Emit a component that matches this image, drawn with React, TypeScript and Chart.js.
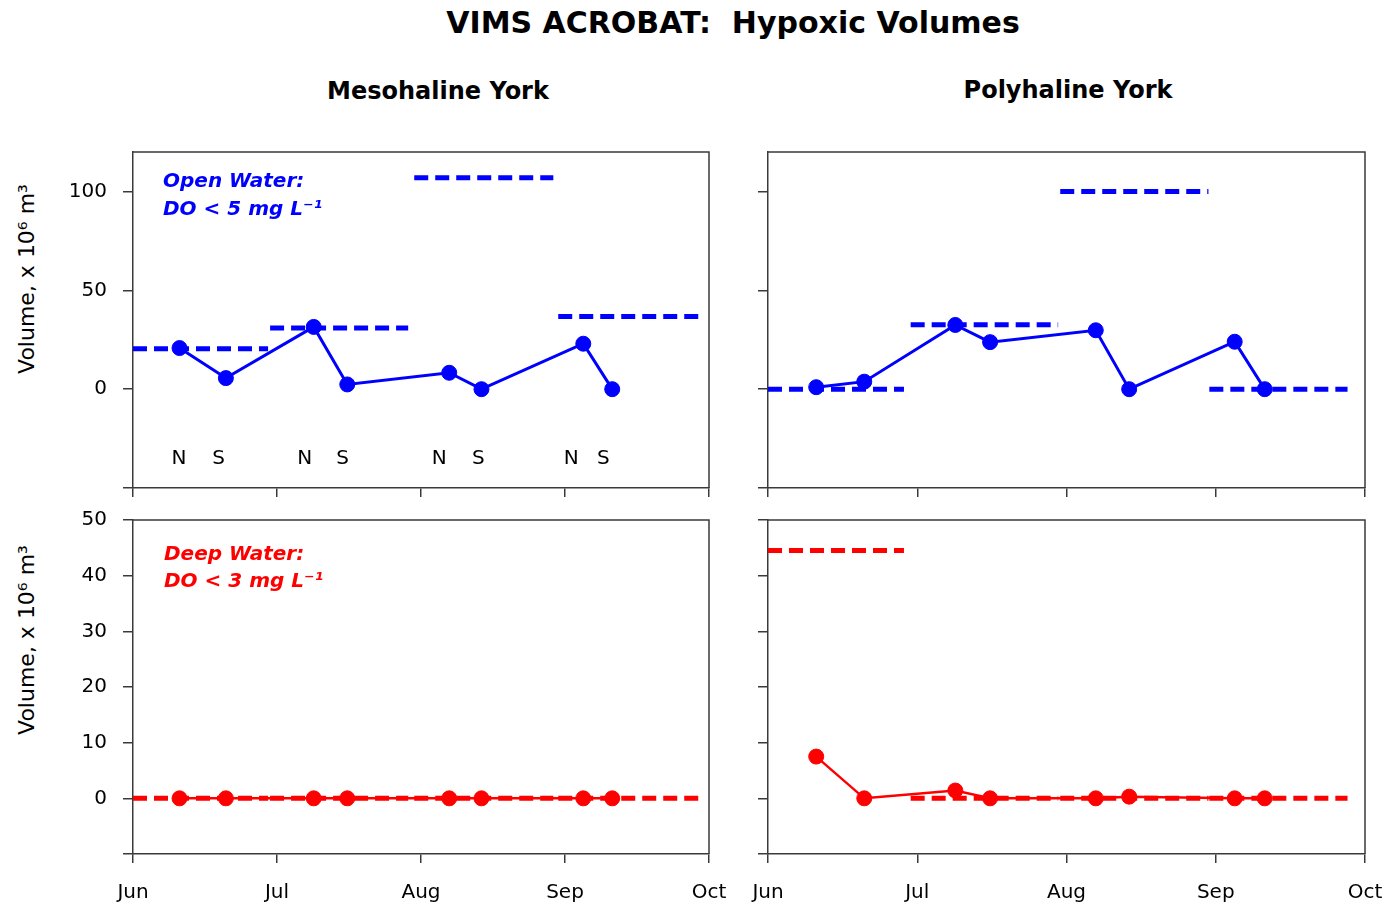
import React, { useEffect, useRef } from "react";
import { Chart, registerables } from "chart.js";

Chart.register(...registerables);

// ---------- data ----------
// x values are months after 1 June (0 = Jun 1, 1 = Jul 1, ... 4 = Oct 1)
const monthLabels = ["Jun", "Jul", "Aug", "Sep", "Oct"];
const sampleDates = [0.323, 0.645, 1.255, 1.488, 2.196, 2.42, 3.127, 3.328];

const mesoOpenVolume = [20.8, 5.6, 31.5, 2.4, 8.3, 0, 23, 0];
const polyOpenVolume = [1, 3.8, 32.5, 23.8, 29.8, 0, 24, 0];
const mesoDeepVolume = [0, 0, 0, 0, 0, 0, 0, 0];
const polyDeepVolume = [7.5, 0, 1.4, 0, 0, 0.3, 0, 0];

const mesoPeriodStart = [0, 0.952, 1.953, 2.953];
const mesoPeriodEnd = [0.938, 1.911, 2.919, 3.926];
const polyPeriodStart = [0, 0.956, 1.958, 2.957];
const polyPeriodEnd = [0.911, 1.944, 2.951, 3.883];

const mesoOpenMonthly = [20.5, 31, 107, 36.8];
const polyOpenMonthly = [0, 32.6, 100, 0];
const mesoDeepMonthly = [0, 0, 0, 0];
const polyDeepMonthly = [44.5, 0, 0, 0];

const stationLabels = ["N", "S", "N", "S", "N", "S", "N", "S"];
const stationDates = [0.32, 0.594, 1.192, 1.456, 2.127, 2.398, 3.044, 3.266];
const stationLevel = -35.1;

const openTicks = [-50, 0, 50, 100];
const deepTicks = [-10, 0, 10, 20, 30, 40, 50];

// ---------- styling ----------
const W = 1391;
const H = 906;
const FONT = '"DejaVu Sans", "Liberation Sans", sans-serif';
const AXIS = "#3a3a3a";
const BLUE = "#0000ff";
const RED = "#ff0000";

type Area = { left: number; top: number; right: number; bottom: number };
type Panel = {
  area: Area;
  color: string;
  values: number[];
  periodStart: number[];
  periodEnd: number[];
  monthly: number[];
  yMin: number;
  yMax: number;
  yTicks: number[];
  showYLabels: boolean;
  showXLabels: boolean;
  lineWidth: number;
  note?: { lines: string[]; dx: number; dy: number; gap: number };
  stations?: boolean;
};

const panels: Panel[] = [
  {
    area: { left: 133, top: 152, right: 709, bottom: 488 },
    color: BLUE,
    values: mesoOpenVolume,
    periodStart: mesoPeriodStart,
    periodEnd: mesoPeriodEnd,
    monthly: mesoOpenMonthly,
    yMin: -50,
    yMax: 120,
    yTicks: openTicks,
    showYLabels: true,
    showXLabels: false,
    lineWidth: 3,
    note: { lines: ["Open Water:", "DO < 5 mg L\u207B\u00B9"], dx: 30, dy: 30, gap: 28 },
    stations: true,
  },
  {
    area: { left: 768, top: 152, right: 1365, bottom: 488 },
    color: BLUE,
    values: polyOpenVolume,
    periodStart: polyPeriodStart,
    periodEnd: polyPeriodEnd,
    monthly: polyOpenMonthly,
    yMin: -50,
    yMax: 120,
    yTicks: openTicks,
    showYLabels: false,
    showXLabels: false,
    lineWidth: 3,
  },
  {
    area: { left: 133, top: 520, right: 709, bottom: 854 },
    color: RED,
    values: mesoDeepVolume,
    periodStart: mesoPeriodStart,
    periodEnd: mesoPeriodEnd,
    monthly: mesoDeepMonthly,
    yMin: -10,
    yMax: 50,
    yTicks: deepTicks,
    showYLabels: true,
    showXLabels: true,
    lineWidth: 2.5,
    note: { lines: ["Deep Water:", "DO < 3 mg L\u207B\u00B9"], dx: 31, dy: 35, gap: 27 },
  },
  {
    area: { left: 768, top: 520, right: 1365, bottom: 854 },
    color: RED,
    values: polyDeepVolume,
    periodStart: polyPeriodStart,
    periodEnd: polyPeriodEnd,
    monthly: polyDeepMonthly,
    yMin: -10,
    yMax: 50,
    yTicks: deepTicks,
    showYLabels: false,
    showXLabels: true,
    lineWidth: 2.5,
  },
];

const framePlugin = {
  id: "frame",
  afterDraw(chart: any) {
    const { ctx, chartArea } = chart;
    ctx.save();
    ctx.strokeStyle = AXIS;
    ctx.lineWidth = 1.5;
    ctx.beginPath();
    ctx.moveTo(chartArea.left, chartArea.top);
    ctx.lineTo(chartArea.right, chartArea.top);
    ctx.lineTo(chartArea.right, chartArea.bottom);
    ctx.stroke();
    ctx.restore();
  },
};

function annotationsPlugin(p: Panel) {
  return {
    id: "annotations",
    afterDatasetsDraw(chart: any) {
      const { ctx, chartArea, scales } = chart;
      ctx.save();
      if (p.note) {
        ctx.fillStyle = p.color;
        ctx.font = `italic bold 20px ${FONT}`;
        ctx.textAlign = "left";
        ctx.textBaseline = "middle";
        p.note.lines.forEach((t, i) => {
          ctx.fillText(t, chartArea.left + p.note!.dx, chartArea.top + p.note!.dy + i * p.note!.gap);
        });
      }
      if (p.stations) {
        ctx.fillStyle = "#000";
        ctx.font = `20px ${FONT}`;
        ctx.textAlign = "center";
        ctx.textBaseline = "middle";
        stationLabels.forEach((s, i) => {
          ctx.fillText(s, scales.x.getPixelForValue(stationDates[i]), scales.y.getPixelForValue(stationLevel));
        });
      }
      ctx.restore();
    },
  };
}

function buildConfig(p: Panel): any {
  const solid = sampleDates.map((d, i) => ({ x: d, y: p.values[i] }));
  const dashed: { x: number; y: number | null }[] = [];
  p.periodStart.forEach((s, i) => {
    if (i > 0) dashed.push({ x: (p.periodEnd[i - 1] + s) / 2, y: null });
    dashed.push({ x: s, y: p.monthly[i] }, { x: p.periodEnd[i], y: p.monthly[i] });
  });
  const yAxisWidth = p.showYLabels ? p.area.left : 24;
  const xAxisHeight = p.showXLabels ? 52 : 14;
  return {
    type: "line",
    data: {
      datasets: [
        {
          data: solid,
          borderColor: p.color,
          backgroundColor: p.color,
          borderWidth: p.lineWidth,
          pointRadius: 7.5,
          pointBorderWidth: 1,
          pointHoverRadius: 7.5,
          order: 1,
        },
        {
          data: dashed,
          borderColor: p.color,
          backgroundColor: p.color,
          borderWidth: 5,
          borderDash: [14, 7],
          pointRadius: 0,
          spanGaps: false,
          order: 2,
        },
      ],
    },
    options: {
      responsive: false,
      animation: false,
      devicePixelRatio: 1,
      events: [],
      layout: {
        padding: {
          left: p.area.left - yAxisWidth,
          top: p.area.top,
          right: W - p.area.right,
          bottom: H - p.area.bottom - xAxisHeight,
        },
      },
      plugins: { legend: { display: false }, tooltip: { enabled: false }, title: { display: false } },
      scales: {
        x: {
          type: "linear",
          min: 0,
          max: 4,
          afterBuildTicks: (s: any) => {
            s.ticks = monthLabels.map((_, i) => ({ value: i }));
          },
          afterFit: (s: any) => {
            s.height = xAxisHeight;
            s.paddingLeft = 0;
            s.paddingRight = 0;
          },
          grid: { drawOnChartArea: false, drawTicks: true, tickLength: 9, color: AXIS, lineWidth: 1.5 },
          border: { display: true, color: AXIS, width: 1.5 },
          ticks: {
            display: p.showXLabels,
            autoSkip: false,
            maxRotation: 0,
            padding: 18,
            color: "#000",
            font: { family: FONT, size: 20 },
            callback: (v: any) => monthLabels[Math.round(v)] ?? "",
          },
        },
        y: {
          type: "linear",
          min: p.yMin,
          max: p.yMax,
          afterBuildTicks: (s: any) => {
            s.ticks = p.yTicks.map((v) => ({ value: v }));
          },
          afterFit: (s: any) => {
            s.width = yAxisWidth;
            s.paddingTop = 0;
            s.paddingBottom = 0;
          },
          grid: { drawOnChartArea: false, drawTicks: true, tickLength: 10, color: AXIS, lineWidth: 1.5 },
          border: { display: true, color: AXIS, width: 1.5 },
          ticks: {
            display: p.showYLabels,
            padding: 16,
            color: "#000",
            font: { family: FONT, size: 20 },
            callback: (v: any) => (v < 0 ? "" : String(v)),
          },
        },
      },
    },
    plugins: [framePlugin, annotationsPlugin(p)],
  };
}

function PanelChart({ panel }: { panel: Panel }) {
  const ref = useRef<HTMLCanvasElement>(null);
  useEffect(() => {
    const chart = new Chart(ref.current as HTMLCanvasElement, buildConfig(panel));
    return () => chart.destroy();
  }, [panel]);
  return (
    <canvas
      ref={ref}
      width={W}
      height={H}
      style={{ position: "absolute", left: 0, top: 0, width: W, height: H, pointerEvents: "none" }}
    />
  );
}

const textBase: React.CSSProperties = {
  position: "absolute",
  transform: "translate(-50%, -50%)",
  whiteSpace: "nowrap",
  fontFamily: FONT,
  color: "#000",
  lineHeight: 1,
};

export default function App() {
  const yTitle = "Volume, x 10\u2076 m\u00B3";
  return (
    <div style={{ position: "absolute", left: 0, top: 0, width: W, height: H, background: "#fff", overflow: "hidden" }}>
      <div style={{ ...textBase, left: 733, top: 23, fontSize: 30, fontWeight: "bold" }}>
        VIMS ACROBAT:&nbsp; Hypoxic Volumes
      </div>
      <div style={{ ...textBase, left: 438, top: 91, fontSize: 24, fontWeight: "bold" }}>Mesohaline York</div>
      <div style={{ ...textBase, left: 1068, top: 90, fontSize: 24, fontWeight: "bold" }}>Polyhaline York</div>
      <div style={{ ...textBase, left: 27, top: 279, fontSize: 22, transform: "translate(-50%, -50%) rotate(-90deg)" }}>
        {yTitle}
      </div>
      <div style={{ ...textBase, left: 27, top: 640, fontSize: 22, transform: "translate(-50%, -50%) rotate(-90deg)" }}>
        {yTitle}
      </div>
      {panels.map((p, i) => (
        <PanelChart key={i} panel={p} />
      ))}
    </div>
  );
}
